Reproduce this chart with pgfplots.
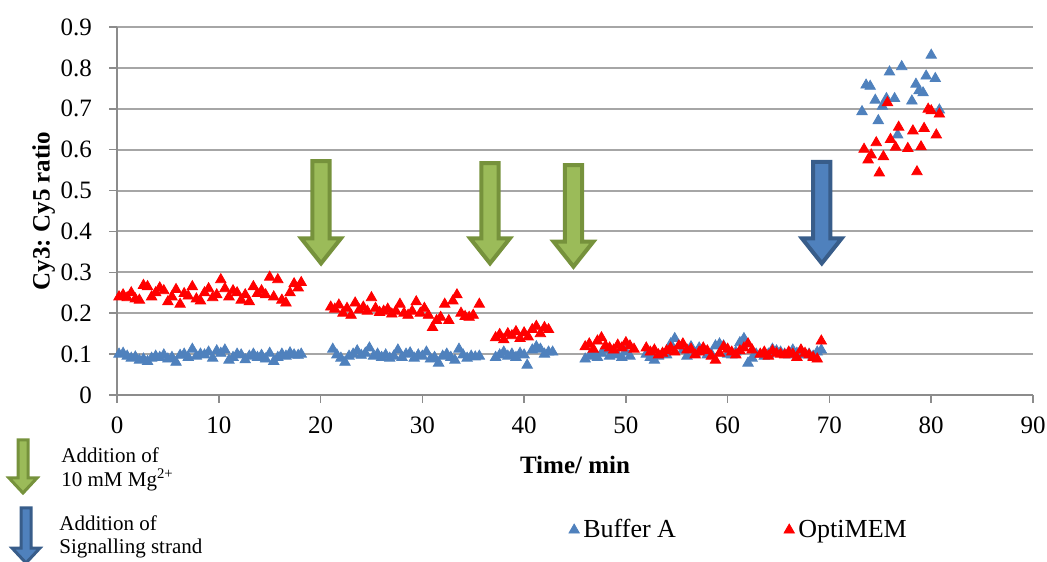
\documentclass[border=0pt]{standalone}
\usepackage{pgfplots}
\pgfplotsset{compat=1.18}
\usepackage{pgfplotstable}
\usepackage{fontspec}
\setmainfont{Liberation Serif}
\frenchspacing
\definecolor{bufblue}{HTML}{4F81BD}
\definecolor{optired}{HTML}{FF0000}
\definecolor{gfill}{HTML}{9BBB59}
\definecolor{gline}{HTML}{76923C}
\definecolor{bfill}{HTML}{4F81BD}
\definecolor{bline}{HTML}{385D8A}
\definecolor{gridgray}{HTML}{A6A6A6}
\definecolor{axgray}{HTML}{8C8C8C}

\pgfplotstableread{
x y
0.2 0.100
0.6 0.102
1.0 0.095
1.4 0.090
1.8 0.093
2.2 0.085
2.6 0.088
3.0 0.082
3.4 0.090
3.8 0.095
4.2 0.092
4.6 0.098
5.0 0.088
5.4 0.092
5.8 0.080
6.2 0.097
6.6 0.100
7.0 0.092
7.4 0.112
7.8 0.095
8.2 0.100
8.6 0.098
9.0 0.105
9.4 0.090
9.8 0.108
10.2 0.102
10.6 0.110
11.0 0.085
11.4 0.092
11.8 0.100
12.2 0.098
12.6 0.086
13.0 0.095
13.4 0.100
13.8 0.092
14.2 0.097
14.6 0.088
15.0 0.102
15.4 0.082
15.8 0.092
16.2 0.100
16.6 0.095
17.0 0.103
17.4 0.098
17.8 0.097
18.1 0.100
21.2 0.112
21.6 0.098
22.0 0.090
22.4 0.080
22.8 0.095
23.2 0.100
23.6 0.108
24.0 0.097
24.4 0.102
24.8 0.115
25.2 0.095
25.6 0.100
26.0 0.092
26.4 0.098
26.8 0.090
27.2 0.095
27.6 0.110
28.0 0.092
28.4 0.100
28.8 0.103
29.2 0.090
29.6 0.098
30.0 0.095
30.4 0.105
30.8 0.088
31.2 0.092
31.6 0.078
32.0 0.095
32.4 0.100
32.8 0.092
33.2 0.085
33.6 0.112
34.0 0.098
34.4 0.090
34.8 0.095
35.2 0.093
35.6 0.095
37.2 0.092
37.6 0.098
38.0 0.105
38.4 0.095
38.8 0.100
39.2 0.092
39.6 0.102
40.0 0.098
40.3 0.073
40.8 0.110
41.2 0.118
41.6 0.112
42.0 0.100
42.4 0.105
42.8 0.105
46.0 0.088
46.4 0.095
46.8 0.100
47.2 0.092
47.6 0.102
48.0 0.110
48.4 0.095
48.8 0.100
49.2 0.098
49.6 0.092
50.0 0.105
50.4 0.095
52.0 0.100
52.4 0.092
52.8 0.085
53.2 0.095
53.6 0.100
54.0 0.098
54.4 0.125
54.8 0.138
55.2 0.120
55.6 0.110
56.0 0.095
56.4 0.118
56.8 0.102
57.2 0.115
57.6 0.112
58.0 0.098
58.4 0.100
58.8 0.120
59.2 0.125
59.6 0.120
60.0 0.100
60.4 0.098
60.8 0.105
61.2 0.128
61.6 0.138
62.0 0.078
62.4 0.090
62.8 0.100
63.6 0.095
64.0 0.100
64.4 0.112
64.8 0.108
65.2 0.105
65.6 0.100
66.0 0.098
66.4 0.110
66.8 0.102
67.2 0.108
67.6 0.098
68.0 0.100
68.4 0.095
68.8 0.105
69.2 0.110
73.2 0.693
73.6 0.758
74.0 0.755
74.5 0.721
74.8 0.671
75.2 0.706
75.6 0.725
75.9 0.790
76.4 0.725
76.7 0.636
77.1 0.803
78.1 0.719
78.5 0.760
78.8 0.744
79.2 0.739
79.5 0.780
80.0 0.831
80.4 0.774
80.8 0.697
}\bufferA

\pgfplotstableread{
x y
0.2 0.240
0.6 0.245
1.0 0.238
1.4 0.250
1.8 0.235
2.2 0.232
2.6 0.268
3.0 0.265
3.4 0.240
3.8 0.250
4.2 0.262
4.6 0.255
5.0 0.228
5.4 0.240
5.8 0.258
6.2 0.222
6.6 0.248
7.0 0.242
7.4 0.265
7.8 0.235
8.2 0.230
8.6 0.250
9.0 0.260
9.4 0.238
9.8 0.245
10.2 0.282
10.6 0.260
11.0 0.240
11.4 0.255
11.8 0.250
12.2 0.232
12.6 0.245
13.0 0.228
13.4 0.265
13.8 0.248
14.2 0.255
14.6 0.245
15.0 0.288
15.4 0.240
15.8 0.282
16.2 0.232
16.6 0.225
17.0 0.250
17.4 0.272
17.8 0.262
18.1 0.275
21.0 0.215
21.4 0.210
21.8 0.220
22.2 0.200
22.6 0.212
23.0 0.195
23.4 0.225
23.8 0.208
24.2 0.215
24.6 0.205
25.0 0.238
25.4 0.212
25.8 0.202
26.2 0.205
26.6 0.210
27.0 0.198
27.4 0.205
27.8 0.222
28.2 0.200
28.6 0.195
29.0 0.205
29.4 0.228
29.8 0.200
30.2 0.212
30.6 0.195
31.0 0.165
31.4 0.182
31.8 0.190
32.2 0.222
32.6 0.182
33.0 0.230
33.4 0.245
33.8 0.200
34.2 0.192
34.6 0.190
35.0 0.195
35.6 0.222
37.2 0.140
37.6 0.148
38.0 0.135
38.4 0.150
38.8 0.145
39.2 0.155
39.6 0.138
40.0 0.152
40.4 0.142
40.8 0.160
41.2 0.168
41.6 0.150
42.0 0.165
42.4 0.160
46.0 0.118
46.4 0.125
46.8 0.112
47.2 0.132
47.6 0.140
48.0 0.120
48.4 0.115
48.8 0.110
49.2 0.122
49.6 0.115
50.0 0.128
50.4 0.120
50.8 0.112
52.0 0.115
52.4 0.105
52.8 0.110
53.2 0.098
53.6 0.102
54.0 0.108
54.4 0.115
54.8 0.105
55.2 0.120
55.6 0.125
56.0 0.110
56.4 0.112
56.8 0.098
57.2 0.105
57.6 0.115
58.0 0.108
58.4 0.095
58.8 0.085
59.2 0.102
59.6 0.118
60.0 0.112
60.4 0.105
60.8 0.098
61.2 0.108
61.6 0.115
62.0 0.125
62.4 0.110
63.2 0.100
63.6 0.105
64.0 0.095
64.4 0.108
64.8 0.102
65.2 0.100
65.6 0.098
66.0 0.105
66.4 0.100
66.8 0.092
67.2 0.110
67.6 0.102
68.0 0.098
68.4 0.092
68.8 0.088
69.2 0.132
73.4 0.601
73.8 0.575
74.1 0.587
74.6 0.617
74.9 0.543
75.3 0.583
75.7 0.715
76.0 0.625
76.5 0.606
76.8 0.655
77.7 0.603
78.2 0.646
78.6 0.546
79.0 0.607
79.3 0.652
79.7 0.699
80.0 0.695
80.5 0.636
80.8 0.687
}\optiMEM

\begin{document}
\begin{tikzpicture}[font=\fontsize{12}{14}\selectfont]
\useasboundingbox (0,0) rectangle (523.5pt,280.5pt);
\begin{axis}[
  at={(58.5pt,83pt)}, anchor=south west,
  scale only axis, width=458pt, height=184pt,
  xmin=0, xmax=90, ymin=0, ymax=0.9,
  axis lines*=left,
  axis line style={axgray, line width=0.8pt},
  xtick={0,10,...,90},
  ytick={0,0.1,0.2,0.3,0.4,0.5,0.6,0.7,0.8,0.9},
  tick align=outside,
  major tick length=4pt,
  tick style={axgray, line width=0.8pt},
  ymajorgrids,
  grid style={gridgray, line width=1pt},
  /pgf/number format/assume math mode=true,
  y tick label style={/pgf/number format/fixed, /pgf/number format/precision=1, xshift=-5pt},
  x tick label style={yshift=-3.5pt},
  ticklabel style={font=\fontsize{12.5}{14}\selectfont},
  xlabel={\textbf{Time/ min}},
  ylabel={\textbf{Cy3: Cy5 ratio}},
  label style={font=\fontsize{12.5}{14}\selectfont},
  xlabel style={at={(axis description cs:0.5,-0.19)}, anchor=center},
  ylabel style={at={(axis description cs:-0.08,0.5)}, anchor=center},
  legend columns=2,
  legend style={at={(axis description cs:0.68,-0.367)}, anchor=center, draw=none, fill=none,
    font=\fontsize{13}{15}\selectfont,
    /tikz/every even column/.append style={column sep=52pt}},
  legend cell align=left,
]
\addplot[only marks, mark=triangle*, mark size=3pt, color=bufblue] table[x=x,y=y] {\bufferA};
\addlegendentry{Buffer A}
\addplot[only marks, mark=triangle*, mark size=3pt, color=optired] table[x=x,y=y] {\optiMEM};
\addlegendentry{OptiMEM}
% arrows (annotations)
\draw[gline, line width=2pt, fill=gfill, line join=miter]
  (axis cs:19.2,0.572) -- (axis cs:20.9,0.572) -- (axis cs:20.9,0.383) -- (axis cs:22.0,0.383)
  -- (axis cs:20.05,0.322) -- (axis cs:18.1,0.383) -- (axis cs:19.2,0.383) -- cycle;
\draw[gline, line width=2pt, fill=gfill, line join=miter]
  (axis cs:35.8,0.567) -- (axis cs:37.5,0.567) -- (axis cs:37.5,0.383) -- (axis cs:38.6,0.383)
  -- (axis cs:36.65,0.322) -- (axis cs:34.7,0.383) -- (axis cs:35.8,0.383) -- cycle;
\draw[gline, line width=2pt, fill=gfill, line join=miter]
  (axis cs:44.0,0.562) -- (axis cs:45.7,0.562) -- (axis cs:45.7,0.375) -- (axis cs:46.8,0.375)
  -- (axis cs:44.85,0.314) -- (axis cs:42.9,0.375) -- (axis cs:44.0,0.375) -- cycle;
\draw[bline, line width=2pt, fill=bfill, line join=miter]
  (axis cs:68.4,0.570) -- (axis cs:70.1,0.570) -- (axis cs:70.1,0.383) -- (axis cs:71.2,0.383)
  -- (axis cs:69.25,0.322) -- (axis cs:67.3,0.383) -- (axis cs:68.4,0.383) -- cycle;
\end{axis}
% key arrows at bottom left
\draw[gline, line width=1.5pt, fill=gfill, line join=miter]
  (9pt,60.5pt) -- (14pt,60.5pt) -- (14pt,41.5pt) -- (18.5pt,41.5pt) -- (11.5pt,34pt)
  -- (4.5pt,41.5pt) -- (9pt,41.5pt) -- cycle;
\draw[bline, line width=1.5pt, fill=bfill, line join=miter]
  (10.5pt,26.5pt) -- (15.5pt,26.5pt) -- (15.5pt,6.5pt) -- (20pt,6.5pt) -- (13pt,-1pt)
  -- (6pt,6.5pt) -- (10.5pt,6.5pt) -- cycle;
\node[anchor=west, inner sep=0pt, font=\fontsize{10.5}{12}\selectfont] at (30.5pt,53pt) {Addition of};
\node[anchor=west, inner sep=0pt, font=\fontsize{10.5}{12}\selectfont] at (30.5pt,40.5pt) {10 mM Mg\textsuperscript{2+}};
\node[anchor=west, inner sep=0pt, font=\fontsize{10.5}{12}\selectfont] at (29.5pt,19pt) {Addition of};
\node[anchor=west, inner sep=0pt, font=\fontsize{10.5}{12}\selectfont] at (29.5pt,6.5pt) {Signalling strand};
\end{tikzpicture}
\end{document}
